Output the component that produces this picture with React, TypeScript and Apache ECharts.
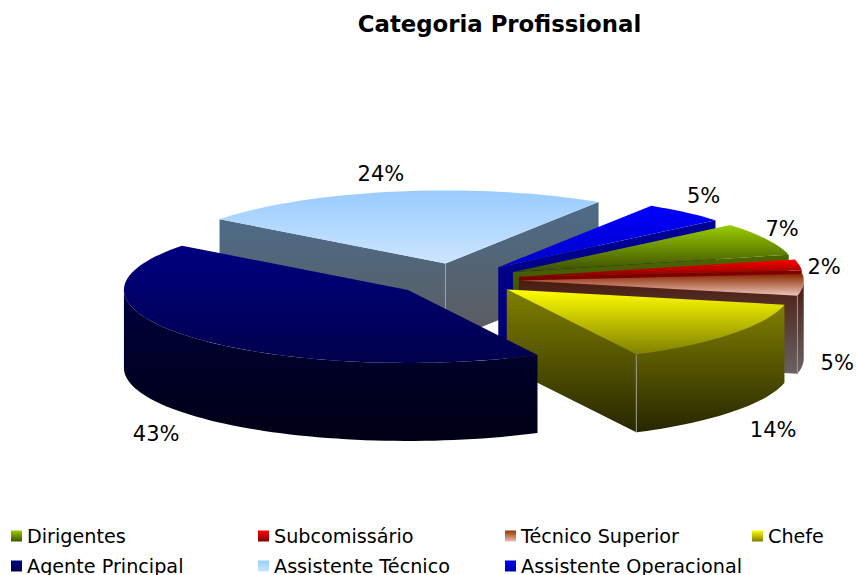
import React, { useEffect, useRef } from "react";
import * as echarts from "echarts";

const categories = ["Dirigentes", "Subcomissário", "Técnico Superior", "Chefe", "Agente Principal", "Assistente Técnico", "Assistente Operacional"];
const percents = [7.3, 2.4, 4.8, 14.1, 42.9, 23.7, 4.8];
const paintOrder = [3, 4, 5, 6, 7, 1, 2];
const topColors = [["#99CC00", "#3A4D00"], ["#FF0000", "#800000"], ["#8B2500", "#EBC8BC"], ["#FFFF00", "#7F7F00"], ["#000080", "#00004C"], ["#99CCFF", "#CCE5FF"], ["#0000FF", "#0000C8"]];
const sideColors = [["#4D6600", "#2A3800"], ["#800000", "#500000"], ["#4A1C10", "#6A6264"], ["#808000", "#262600"], ["#00003D", "#000014"], ["#4D6B88", "#5C5C5E"], ["#000099", "#000070"]];
const legendColors = [["#99CC00", "#3D5200"], ["#FF0000", "#800000"], ["#993300", "#E8C0B0"], ["#FFFF00", "#7F7F00"], ["#000080", "#000050"], ["#99CCFF", "#CCE5FF"], ["#0000FF", "#0000A0"]];
const labelNudges = [[16, -10], [25, 2], [34, 0], [41, 18], [-34, 19], [-15, -18], [18, -16]];

const FONT = "'DejaVu Sans', Verdana, sans-serif";
const CX = 456.5, CY = 279.5, RX = 284, RY = 73, DEPTH = 78, EXPLODE = 0.223, START = 319.9;

const grad = (c: string[]) => new echarts.graphic.LinearGradient(0, 0, 0, 1, [{ offset: 0, color: c[0] }, { offset: 1, color: c[1] }]);
const rad = (d: number) => (d * Math.PI) / 180;
const total = percents.reduce((a, b) => a + b, 0);

function renderSlice(idx: number) {
  let a0 = START;
  for (let i = 0; i < idx; i++) a0 += (percents[i] / total) * 360;
  const a1 = a0 + (percents[idx] / total) * 360;
  const mid = rad((a0 + a1) / 2);
  const ax = CX + RX * EXPLODE * Math.cos(mid);
  const ay = CY + RY * EXPLODE * Math.sin(mid);
  const pt = (deg: number, dz = 0): number[] => [ax + RX * Math.cos(rad(deg)), ay + RY * Math.sin(rad(deg)) + dz];
  const arc = (from: number, to: number, dz = 0) => {
    const out: number[][] = [];
    const n = Math.max(2, Math.ceil(Math.abs(to - from) / 2));
    for (let i = 0; i <= n; i++) out.push(pt(from + ((to - from) * i) / n, dz));
    return out;
  };
  const children: any[] = [];
  const side = grad(sideColors[idx]);
  const face = (deg: number) => {
    const p = pt(deg), q = pt(deg, DEPTH);
    children.push({ type: "polygon", shape: { points: [[ax, ay], p, q, [ax, ay + DEPTH]] }, style: { fill: side } });
  };
  const startVisible = Math.cos(rad(a0)) < 0;
  const endVisible = Math.cos(rad(a1)) > 0;
  if (startVisible) face(a0);
  if (endVisible) face(a1);
  // outer rim: only the part of the ellipse that faces the viewer
  for (const base of [0, 360]) {
    const from = Math.max(a0, base), to = Math.min(a1, base + 180);
    if (to > from) {
      children.push({ type: "polygon", shape: { points: [...arc(from, to), ...arc(to, from, DEPTH)] }, style: { fill: side } });
      if (endVisible && to === a1) {
        const p = pt(a1), q = pt(a1, DEPTH);
        children.push({ type: "line", shape: { x1: p[0], y1: p[1], x2: q[0], y2: q[1] }, style: { stroke: "#9a9a90", lineWidth: 1 } });
      }
    }
  }
  if (startVisible && endVisible) {
    children.push({ type: "line", shape: { x1: ax, y1: ay, x2: ax, y2: ay + DEPTH }, style: { stroke: "#9aa5b0", lineWidth: 1 } });
  }
  children.push({ type: "polygon", shape: { points: [[ax, ay], ...arc(a0, a1)] }, style: { fill: grad(topColors[idx]) } });
  const m = pt((a0 + a1) / 2, Math.sin(mid) > 0 || Math.abs(Math.sin(mid)) < 0.06 ? DEPTH : 0);
  children.push({
    type: "text",
    x: m[0] + labelNudges[idx][0],
    y: m[1] + labelNudges[idx][1],
    style: { text: Math.round((percents[idx] / total) * 100) + "%", fill: "#000", fontFamily: FONT, fontSize: 21, align: "center", verticalAlign: "middle" },
  });
  return { type: "group", children };
}

export default function App() {
  const ref = useRef<HTMLDivElement>(null);
  useEffect(() => {
    document.body.style.margin = "0";
    const chart = echarts.init(ref.current!, undefined, { renderer: "svg" });
    const legendX = [11, 258, 505, 752];
    chart.setOption({
      animation: false,
      backgroundColor: "#fff",
      title: {
        text: "Categoria Profissional",
        left: 494.5,
        textAlign: "center",
        top: 7,
        textStyle: { fontFamily: FONT, fontWeight: "bold", fontSize: 22.8, color: "#000" },
      },
      legend: legendX.map((x, c) => ({
        orient: "vertical",
        left: x,
        top: 526,
        height: 70,
        padding: 0,
        itemGap: 10,
        itemWidth: 11,
        itemHeight: 11,
        selectedMode: false,
        textStyle: { fontFamily: FONT, fontSize: 19.2, color: "#000", lineHeight: 20 },
        data: [c, c + 4].filter((i) => i < categories.length).map((i) => ({
          name: categories[i],
          icon: "rect",
          itemStyle: { color: grad(legendColors[i]) },
        })),
      })),
      series: categories.map((name, i) => ({
        type: "custom",
        name,
        coordinateSystem: "none",
        silent: true,
        z: paintOrder[i],
        itemStyle: { color: legendColors[i][0] },
        data: [percents[i]],
        renderItem: () => renderSlice(i),
      })),
    });
    return () => chart.dispose();
  }, []);
  return <div ref={ref} style={{ position: "absolute", left: 0, top: 0, width: 856, height: 575, overflow: "hidden" }} />;
}
